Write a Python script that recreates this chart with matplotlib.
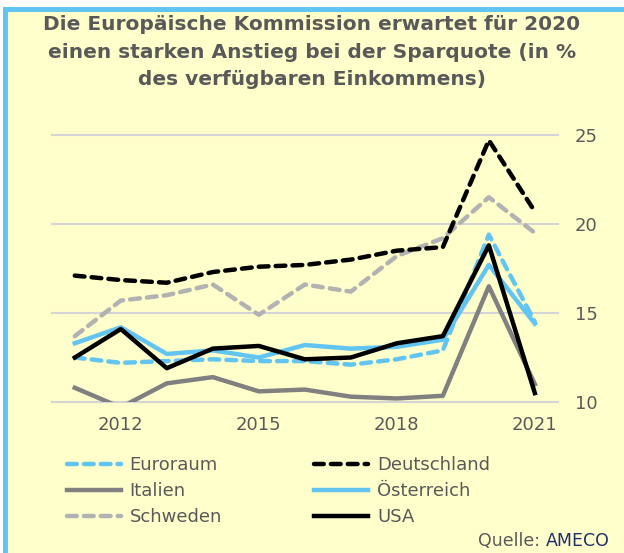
import matplotlib
matplotlib.use('Agg')
import matplotlib.pyplot as plt
from matplotlib.patches import Rectangle

plt.rcParams['font.family'] = ['DejaVu Sans']

# Sparquote in % des verfügbaren Einkommens
jahre = [2011, 2012, 2013, 2014, 2015, 2016, 2017, 2018, 2019, 2020, 2021]
euroraum = [12.5, 12.2, 12.3, 12.4, 12.3, 12.3, 12.1, 12.4, 12.9, 19.4, 14.5]
deutschland = [17.1, 16.85, 16.7, 17.3, 17.6, 17.7, 18.0, 18.5, 18.7, 24.7, 20.7]
italien = [10.8, 9.7, 11.05, 11.4, 10.6, 10.7, 10.3, 10.2, 10.35, 16.5, 11.0]
oesterreich = [13.3, 14.2, 12.7, 12.9, 12.5, 13.2, 13.0, 13.1, 13.5, 17.7, 14.4]
schweden = [13.7, 15.7, 16.0, 16.6, 14.9, 16.6, 16.2, 18.2, 19.2, 21.5, 19.5]
usa = [12.5, 14.1, 11.9, 13.0, 13.15, 12.4, 12.5, 13.3, 13.7, 18.8, 10.5]

bg = '#FFFFCC'
blau = '#62C4F0'
txt = '#595959'

fig = plt.figure(figsize=(6.24, 5.53), dpi=100, facecolor='white')

# hellgelber Hintergrund mit blauem Rand oben und links
fig.patches.append(Rectangle((3/624, 0), 621/624, 1 - 7/553, transform=fig.transFigure,
                             facecolor=blau, edgecolor='none', zorder=-2))
fig.patches.append(Rectangle((8/624, 0), 616/624, 1 - 12/553, transform=fig.transFigure,
                             facecolor=bg, edgecolor='none', zorder=-1))

ax = fig.add_axes([0.083, 0.273, 0.811, 0.483])
ax.set_facecolor('none')
x = list(range(len(jahre)))

lw = 3.2
l_eur, = ax.plot(x, euroraum, color=blau, lw=lw, dashes=(2.2, 1.6), dash_capstyle='round', label='Euroraum')
l_ita, = ax.plot(x, italien, color='#808080', lw=lw, label='Italien')
l_swe, = ax.plot(x, schweden, color='#B2B2B2', lw=lw, dashes=(2.2, 1.6), dash_capstyle='round', label='Schweden')
l_aut, = ax.plot(x, oesterreich, color=blau, lw=lw, label='Österreich')
l_usa, = ax.plot(x, usa, color='black', lw=lw, label='USA')
l_deu, = ax.plot(x, deutschland, color='black', lw=lw, dashes=(2.2, 1.6), dash_capstyle='round', label='Deutschland')

ax.set_xlim(-0.5, len(jahre) - 0.5)
ax.set_ylim(10, 25)
ax.set_yticks([10, 15, 20, 25])
ax.yaxis.tick_right()
ax.set_xticks([1, 4, 7, 10])
ax.set_xticklabels([str(jahre[i]) for i in [1, 4, 7, 10]])
ax.tick_params(length=0, labelsize=13, labelcolor=txt, pad=10)
ax.tick_params(axis='y', pad=12)
ax.grid(axis='y', color='#D4D4D4', lw=1.5)
ax.set_axisbelow(True)
for g in ax.get_ygridlines():
    g.set_clip_on(False)
for s in ax.spines.values():
    s.set_visible(False)

fig.text(0.5, 1 - 52/553, 'Die Europäische Kommission erwartet für 2020\n'
         'einen starken Anstieg bei der Sparquote (in %\n'
         'des verfügbaren Einkommens)',
         ha='center', va='center', fontsize=14.5, fontweight='bold', color=txt,
         linespacing=1.55)

fig.legend(handles=[l_eur, l_ita, l_swe, l_deu, l_aut, l_usa], ncol=2,
           loc='upper left', bbox_to_anchor=(0.095, 1 - 449/553), frameon=False,
           fontsize=13, labelcolor=txt, handlelength=3.0, handletextpad=0.5,
           columnspacing=5.1, labelspacing=0.45, borderaxespad=0)

fig.text(0.875, 1 - 541/553, 'Quelle: ', ha='right', va='center', fontsize=12.5, color=txt)
fig.text(0.875, 1 - 541/553, 'AMECO', ha='left', va='center', fontsize=12.5, color='#1F2F6B')

fig.savefig('out.png', dpi=100, facecolor=fig.get_facecolor())
